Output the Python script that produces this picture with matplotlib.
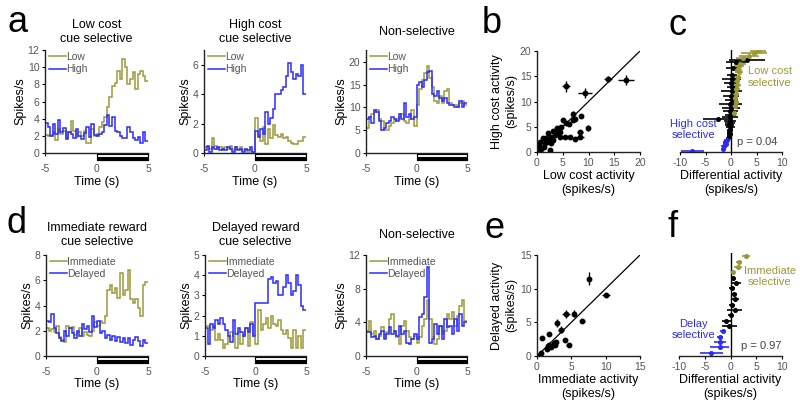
import numpy as np
import matplotlib.pyplot as plt
from matplotlib.patches import Rectangle

plt.rcParams['font.family'] = ['Liberation Sans', 'DejaVu Sans']
plt.rcParams['axes.unicode_minus'] = False

OLIVE = '#9a9a3a'
BLUE = '#2b2bff'
GRAY = '#555555'

# PSTH bins, 0.25 s, -5 to 5 s
time_edges = np.arange(-5, 5.01, 0.25)

# a: cost-selective example cells
a1_low = [2.1, 2.0, 2.1, 2.5, 1.5, 2.8, 2.2, 2.6, 1.8, 2.4, 3.7, 2.6, 1.9, 2.4, 2.0, 2.6, 1.2, 1.2, 2.8, 2.0,
          2.2, 3.0, 3.6, 4.2, 5.4, 6.5, 7.8, 8.2, 9.6, 8.6, 11.0, 10.0, 8.0, 8.6, 9.4, 7.4, 9.2, 9.6, 9.0, 8.4]
a1_high = [3.5, 3.0, 2.0, 3.4, 2.2, 3.8, 2.4, 2.9, 1.6, 2.5, 2.2, 1.7, 2.8, 2.0, 1.6, 2.3, 3.0, 1.9, 3.4, 2.1,
           2.0, 2.2, 2.4, 3.3, 4.4, 3.2, 4.2, 2.6, 2.4, 2.0, 1.8, 1.8, 3.0, 2.4, 1.8, 1.5, 1.9, 1.2, 2.4, 1.4]
a2_low = [0.4, 0.4, 0.3, 1.0, 0.5, 0.3, 0.4, 0.2, 0.4, 0.3, 0.5, 0.2, 0.4, 0.3, 0.4, 0.2, 0.3, 0.1, 0.2, 0.1,
          2.4, 1.2, 0.8, 1.8, 0.6, 1.6, 1.0, 1.9, 1.2, 1.1, 1.3, 1.0, 1.1, 0.8, 0.7, 0.6, 0.6, 0.8, 0.8, 1.1]
a2_high = [0.2, 0.5, 0.1, 0.4, 0.3, 0.4, 0.2, 0.3, 0.2, 0.4, 0.3, 0.1, 0.4, 0.2, 0.3, 0.1, 0.3, 0.2, 0.4, 0.1,
           1.5, 1.1, 1.6, 1.3, 2.8, 2.0, 2.4, 3.0, 4.0, 4.0, 4.3, 4.5, 5.2, 6.1, 5.5, 5.0, 5.4, 5.2, 6.0, 4.0]
a3_low = [5.5, 7.8, 8.5, 9.0, 9.5, 7.5, 7.0, 5.0, 5.0, 6.0, 6.5, 7.0, 7.5, 8.0, 8.5, 7.0, 6.5, 7.5, 9.5, 6.0,
          10.5, 14.0, 16.0, 17.5, 19.0, 16.5, 14.5, 11.5, 11.0, 12.5, 11.0, 13.5, 14.0, 11.0, 10.5, 10.5, 10.0, 11.0, 11.5, 10.5]
a3_high = [7.5, 8.0, 6.5, 9.5, 9.0, 7.0, 5.0, 5.5, 6.5, 7.0, 8.0, 7.5, 7.0, 8.5, 7.5, 11.0, 8.0, 8.5, 7.5, 8.0,
           15.0, 15.5, 14.5, 16.0, 17.8, 18.0, 13.0, 12.5, 13.5, 12.0, 11.5, 12.0, 11.0, 10.5, 10.5, 10.0, 10.0, 11.5, 10.0, 11.0]

# d: delay-selective example cells
d1_imm = [2.2, 2.0, 2.1, 1.9, 2.4, 1.5, 1.3, 1.1, 2.4, 2.2, 2.3, 1.7, 1.9, 2.2, 1.6, 1.9, 1.7, 1.6, 2.0, 2.7,
          2.4, 2.8, 2.6, 3.2, 5.2, 5.6, 5.0, 5.4, 4.6, 6.6, 4.8, 5.2, 6.8, 4.5, 4.2, 4.5, 3.8, 3.2, 5.6, 5.9]
d1_del = [2.8, 2.7, 3.3, 2.2, 1.8, 1.4, 1.2, 2.0, 1.6, 2.2, 1.8, 1.4, 2.0, 1.6, 2.5, 2.1, 2.4, 1.9, 3.2, 2.3,
          2.8, 1.8, 2.0, 1.4, 1.7, 1.3, 1.6, 1.2, 1.5, 1.1, 1.4, 1.0, 1.4, 0.9, 1.3, 1.5, 1.2, 0.8, 1.3, 1.0]
d2_imm = [1.5, 1.5, 1.3, 1.5, 0.8, 1.1, 0.8, 0.4, 0.6, 1.0, 1.2, 1.0, 0.4, 1.2, 0.6, 1.0, 1.4, 0.5, 1.7, 1.0,
          0.6, 2.3, 1.3, 1.6, 1.9, 1.4, 2.0, 1.6, 1.5, 1.8, 1.3, 1.1, 1.3, 0.9, 0.4, 1.3, 0.4, 1.0, 0.4, 1.3]
d2_del = [1.4, 0.6, 1.6, 1.4, 1.8, 1.6, 1.9, 1.6, 1.3, 1.0, 0.7, 1.8, 1.1, 1.4, 1.2, 1.0, 1.4, 1.2, 1.6, 1.0,
          2.6, 2.6, 2.6, 2.6, 2.6, 3.8, 3.9, 3.6, 3.7, 3.0, 3.0, 3.4, 4.0, 3.6, 3.0, 3.2, 4.0, 3.5, 2.5, 2.3]
d3_imm = [3.0, 4.2, 2.6, 3.0, 2.0, 2.4, 3.5, 2.3, 2.8, 4.4, 5.0, 3.0, 2.2, 1.4, 3.6, 4.2, 3.0, 2.2, 2.0, 2.4,
          1.5, 2.2, 3.6, 4.4, 6.6, 4.4, 2.2, 1.4, 2.0, 3.6, 2.6, 3.0, 5.0, 4.4, 5.2, 3.6, 4.8, 6.0, 6.6, 4.2]
d3_del = [2.8, 2.9, 2.3, 2.4, 2.0, 2.6, 3.0, 2.0, 2.6, 3.4, 2.6, 3.0, 2.4, 3.6, 2.6, 3.0, 1.6, 1.4, 2.0, 2.6,
          2.0, 4.6, 5.0, 7.0, 10.6, 1.6, 2.0, 3.8, 2.6, 3.6, 2.0, 4.4, 3.4, 3.6, 2.6, 4.4, 3.0, 5.0, 3.6, 4.0]

# b: population scatter, low vs high cost
b_low = [5.7, 9.3, 13.8, 17.3, 7.0, 8.5, 9.9, 8.4, 8.3, 7.3, 6.4, 6.2, 5.6, 5.1, 4.7, 4.5, 3.8, 3.1, 2.8, 3.4,
         4.4, 2.1, 1.8, 1.2, 0.6, 1.5, 2.3, 2.8, 0.4, 0.8, 0.2, 2.5, 1.3, 3.1, 5.4, 6.9, 7.3, 3.9]
b_high = [13.0, 11.7, 14.5, 14.2, 7.6, 7.1, 4.7, 4.0, 2.9, 2.5, 2.9, 5.5, 5.8, 6.3, 5.0, 4.0, 4.7, 4.2, 3.0, 3.4,
          3.0, 3.7, 2.7, 2.7, 2.0, 1.7, 2.0, 1.7, 1.1, 0.5, 0.3, 0.3, 1.0, 2.4, 3.0, 6.3, 6.6, 3.7]
b_xerr = [0.8, 1.4, 0.75, 1.5, 0.3, 0.3, 0.4, 0.6, 0.8, 0.3, 0.3, 0.3, 0.3, 0.3, 0.3, 0.3, 0.3, 0.3, 0.3, 0.3,
          0.3, 0.3, 0.3, 0.3, 0.3, 0.3, 0.3, 0.3, 0.2, 0.2, 0.2, 0.3, 0.2, 0.3, 0.3, 0.3, 0.3, 0.3]
b_yerr = [1.15, 1.0, 0.6, 1.0, 0.6, 0.3, 0.6, 0.3, 0.3, 0.3, 0.3, 0.4, 0.3, 0.3, 0.3, 0.3, 0.3, 0.3, 0.3, 0.3,
          0.3, 0.3, 0.3, 0.3, 0.3, 0.3, 0.3, 0.3, 0.2, 0.2, 0.2, 0.2, 0.2, 0.3, 0.3, 0.3, 0.3, 0.3]

# c: differential activity (low - high), ranked from bottom to top
c_diff = [-7.6, -1.5, -1.3, -1.0, -1.2, -0.8, -0.6, -0.3, -0.2, -0.3, -0.2, -0.1, -0.3, -0.2, -0.2, -2.6,
          -0.2, -0.1, 0.6, -0.1, 0.0, 0.8, -0.1, 0.9, 0.1, 0.8, 0.0, 1.0, 0.1, 1.0, 0.2, 1.2, 0.0, 1.1, 0.1,
          1.3, 0.2, 1.5, 1.2, 0.3, 1.5, 1.8, 1.0, 3.2, 2.4, 3.5, 4.5, 5.3]
c_err = [2.3, 0.5, 0.6, 0.5, 0.4, 0.5, 0.4, 0.4, 0.5, 0.5, 0.6, 0.8, 0.9, 1.0, 1.2, 2.9,
         1.5, 1.0, 0.4, 1.4, 1.8, 0.5, 2.2, 0.7, 1.2, 0.6, 1.6, 0.6, 2.0, 0.7, 1.0, 0.8, 1.4, 0.6, 1.8,
         0.7, 1.0, 0.8, 0.9, 1.2, 1.0, 1.2, 2.0, 3.5, 1.5, 2.0, 2.5, 1.5]
c_group = ['high'] * 7 + ['none'] * 11 + ['low', 'none', 'none', 'low', 'none', 'low', 'none', 'low', 'none',
           'low', 'none', 'low', 'none', 'low', 'none', 'low', 'none', 'low', 'none', 'low', 'low', 'none',
           'low', 'low', 'none', 'none', 'low', 'low', 'low', 'low']

# e: population scatter, immediate vs delayed
e_imm = [7.6, 10.0, 4.2, 5.4, 6.6, 2.9, 3.5, 4.1, 4.6, 0.7, 1.7, 1.6, 1.4, 2.0, 2.5, 2.6, 2.7, 0.4, 0.6, 1.8]
e_del = [11.5, 9.1, 6.2, 6.3, 5.2, 4.9, 3.9, 2.4, 1.6, 2.7, 3.2, 1.5, 1.1, 1.4, 1.9, 1.6, 2.1, 0.2, 0.4, 1.6]
e_xerr = [0.3, 0.6, 0.6, 0.2, 0.4, 0.2, 0.4, 0.2, 0.4, 0.1, 0.1, 0.2, 0.2, 0.2, 0.2, 0.2, 0.2, 0.1, 0.1, 0.2]
e_yerr = [1.0, 0.3, 0.6, 0.5, 0.2, 0.6, 0.5, 0.2, 0.2, 0.1, 0.1, 0.2, 0.2, 0.2, 0.2, 0.2, 0.2, 0.1, 0.1, 0.2]

# f: differential activity (immediate - delayed), ranked from bottom to top
f_diff = [-3.7, -2.1, -2.1, -2.0, -1.4, -0.2, -0.8, 0.0, 0.8, 0.3, 0.8, 0.6, 0.3, 1.0, 0.5, 0.4, 1.5, 1.7, 3.0]
f_err = [2.2, 1.8, 1.2, 0.6, 0.6, 1.5, 0.8, 0.5, 1.5, 0.5, 0.8, 0.6, 0.6, 1.0, 0.4, 0.3, 0.8, 0.6, 0.8]
f_group = ['high'] * 5 + ['none'] * 10 + ['low'] * 4

group_colors = {'high': BLUE, 'none': 'black', 'low': OLIVE}

fig = plt.figure(figsize=(8, 4.09), dpi=100)


def add_box(l, t, r, b):
    return fig.add_axes([l / 800, 1 - b / 409, (r - l) / 800, (b - t) / 409])


def style(ax):
    for s in ['top', 'right']:
        ax.spines[s].set_visible(False)
    for s in ['left', 'bottom']:
        ax.spines[s].set_linewidth(1.0)
        ax.spines[s].set_color('#222222')
    ax.tick_params(length=2.5, width=0.8, labelsize=7.5, labelcolor=GRAY, pad=1.5)


def psth(ax, first, second, names, ymax, yticks, title, title_y):
    ax.stairs(first, time_edges, baseline=None, color=OLIVE, lw=1.1, label=names[0])
    ax.stairs(second, time_edges, baseline=None, color=BLUE, lw=1.1, label=names[1])
    ax.set_xlim(-5, 5)
    ax.set_ylim(0, ymax)
    ax.set_xticks([-5, 0, 5])
    ax.set_yticks(yticks)
    style(ax)
    ax.tick_params(axis='x', pad=5.5)
    ax.set_ylabel('Spikes/s', fontsize=9, labelpad=1)
    ax.set_xlabel('Time (s)', fontsize=9, labelpad=1)
    ax.text(0.5, title_y, title, transform=ax.transAxes, ha='center', va='center', fontsize=9)
    leg = ax.legend(loc='upper left', bbox_to_anchor=(0.03, 0.99), frameon=False, fontsize=7.5,
                    handlelength=1.6, handletextpad=0.05, labelspacing=0.2, borderaxespad=0, borderpad=0.1)
    for t in leg.get_texts():
        t.set_color(GRAY)
    tr = ax.get_xaxis_transform()
    ax.add_patch(Rectangle((0, -0.065), 5, 0.055, transform=tr, facecolor='white',
                           edgecolor='black', lw=0.8, clip_on=False))
    ax.add_patch(Rectangle((0, -0.065), 5, 0.03, transform=tr, facecolor='black',
                           edgecolor='black', lw=0.8, clip_on=False))


def ranked(ax, diff, err, groups, label_hi, label_lo, ptext, pos_lo, pos_hi, pos_p):
    diff = np.array(diff)
    err = np.array(err)
    groups = np.array(groups)
    rank = np.arange(len(diff))
    ax.axvline(0, color='black', lw=1.0, zorder=1)
    for g, col in group_colors.items():
        m = groups == g
        ax.errorbar(diff[m], rank[m], xerr=err[m], fmt='o', ms=2.6, color=col,
                    elinewidth=1.2, capsize=0, zorder=2)
    ax.set_xlim(-10, 10)
    ax.set_ylim(-0.6, len(diff) - 0.4)
    ax.set_xticks([-10, -5, 0, 5, 10])
    style(ax)
    ax.spines['left'].set_visible(False)
    ax.set_yticks([])
    ax.set_xlabel('Differential activity\n(spikes/s)', fontsize=9, labelpad=2)
    ax.text(pos_lo[0], pos_lo[1], label_lo, transform=ax.transAxes, ha='center', va='center',
            fontsize=8, color=OLIVE)
    ax.text(pos_hi[0], pos_hi[1], label_hi, transform=ax.transAxes, ha='center', va='center',
            fontsize=8, color=BLUE)
    ax.text(pos_p[0], pos_p[1], ptext, transform=ax.transAxes, ha='center', va='center',
            fontsize=8, color='#444444')


def scatter(ax, x, y, xerr, yerr, lim, ticks, xlabel, ylabel):
    ax.plot([0, lim], [0, lim], color='black', lw=0.9)
    ax.errorbar(x, y, xerr=xerr, yerr=yerr, fmt='o', ms=3.2, color='black', elinewidth=1.0, capsize=0)
    ax.set_xlim(0, lim)
    ax.set_ylim(0, lim)
    ax.set_xticks(ticks)
    ax.set_yticks(ticks)
    style(ax)
    ax.set_xlabel(xlabel, fontsize=9, labelpad=2)
    ax.set_ylabel(ylabel, fontsize=9, labelpad=2)


# top row
ax = add_box(45, 50, 148, 153)
psth(ax, a1_low, a1_high, ['Low', 'High'], 12, [0, 2, 4, 6, 8, 10, 12], 'Low cost\ncue selective', 1.175)
ax = add_box(204, 50, 306, 153)
psth(ax, a2_low, a2_high, ['Low', 'High'], 7, [0, 2, 4, 6], 'High cost\ncue selective', 1.175)
ax = add_box(366, 50, 467, 153)
psth(ax, a3_low, a3_high, ['Low', 'High'], 22.6, [0, 5, 10, 15, 20], 'Non-selective', 1.175)
ax = add_box(537, 51, 640, 152)
scatter(ax, b_low, b_high, b_xerr, b_yerr, 20, [0, 5, 10, 15, 20],
        'Low cost activity\n(spikes/s)', 'High cost activity\n(spikes/s)')
ax = add_box(680, 50, 782, 152)
ranked(ax, c_diff, c_err, c_group, 'High cost\nselective', 'Low cost\nselective', 'p = 0.04',
       (0.88, 0.735), (0.13, 0.22), (0.755, 0.098))

# bottom row
ax = add_box(46, 255, 148, 356)
psth(ax, d1_imm, d1_del, ['Immediate', 'Delayed'], 8, [0, 2, 4, 6, 8],
     'Immediate reward\ncue selective', 1.2)
ax = add_box(205, 255, 306, 356)
psth(ax, d2_imm, d2_del, ['Immediate', 'Delayed'], 5, [0, 1, 2, 3, 4, 5],
     'Delayed reward\ncue selective', 1.2)
ax = add_box(366, 255, 467, 356)
psth(ax, d3_imm, d3_del, ['Immediate', 'Delayed'], 12, [0, 4, 8, 12], 'Non-selective', 1.2)
ax = add_box(537, 255, 640, 356)
scatter(ax, e_imm, e_del, e_xerr, e_yerr, 15, [0, 5, 10, 15],
        'Immediate activity\n(spikes/s)', 'Delayed activity\n(spikes/s)')
ax = add_box(679, 253, 782, 356)
ranked(ax, f_diff, f_err, f_group, 'Delay\nselective', 'Immediate\nselective', 'p = 0.97',
       (0.88, 0.77), (0.14, 0.257), (0.796, 0.097))

# panel letters
for letter, xp, yp in [('a', 17.5, 32), ('b', 492, 33), ('c', 677, 35),
                       ('d', 17, 233), ('e', 495, 238), ('f', 673, 237)]:
    fig.text(xp / 800, 1 - yp / 409, letter, ha='center', va='baseline', fontsize=26)

fig.savefig('out.png', dpi=100)
